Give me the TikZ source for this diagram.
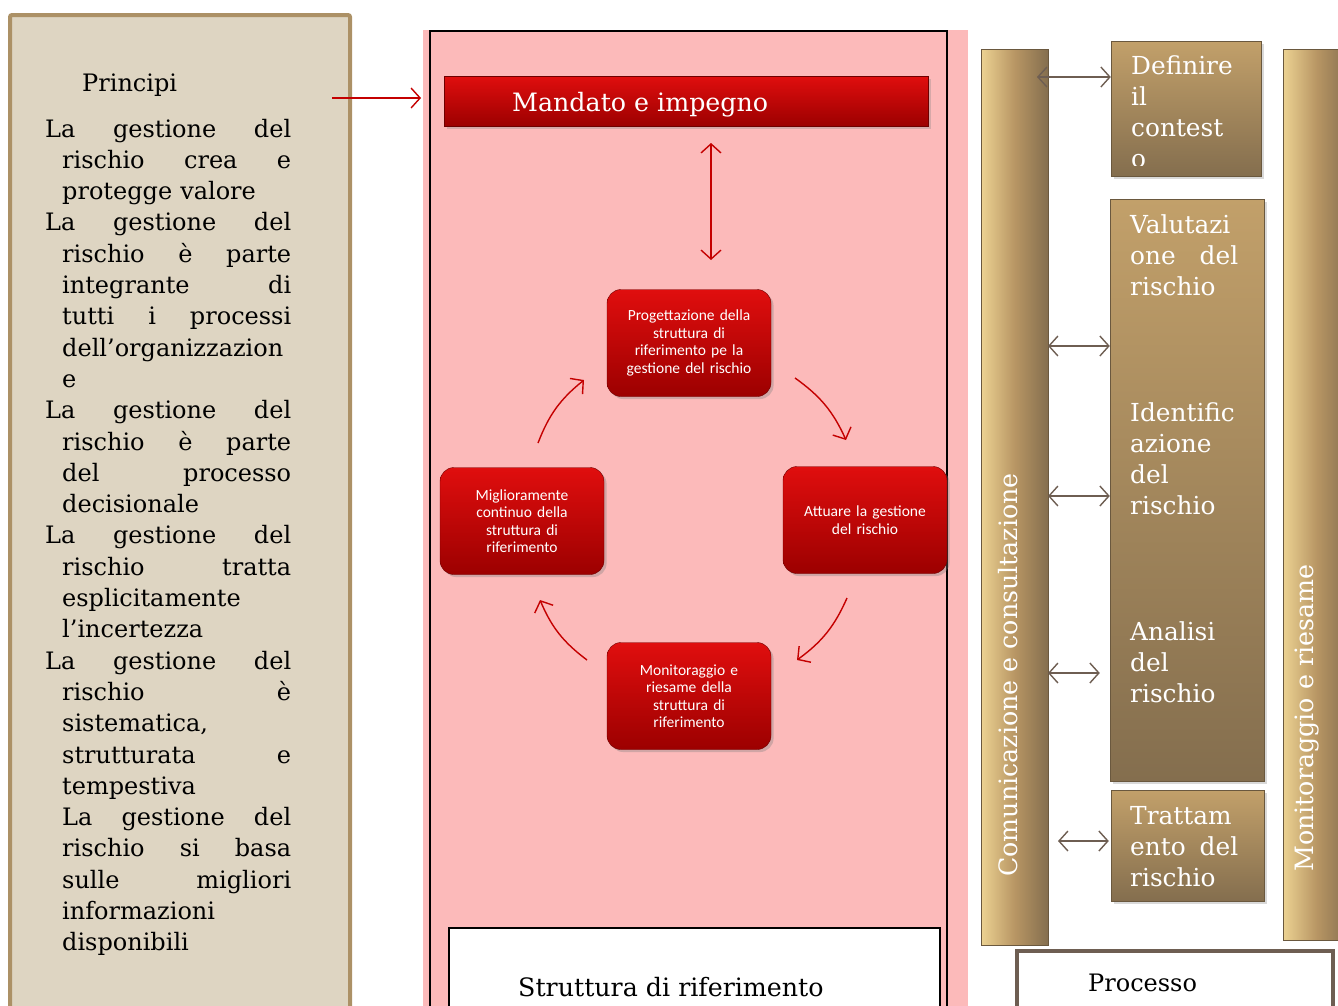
\documentclass[tikz,border=0pt]{standalone}
\usepackage{fontspec}
\setmainfont{DejaVu Serif}
\newfontfamily\boxfont{Carlito}
\usepackage{tikz}
\usetikzlibrary{arrows.meta,positioning,shadows}

\definecolor{beige}{RGB}{222,213,194}
\definecolor{beigeline}{RGB}{172,145,102}
\definecolor{pinkbg}{RGB}{252,186,186}
\definecolor{redtop}{RGB}{224,14,14}
\definecolor{redbot}{RGB}{156,0,0}
\definecolor{goldlight}{RGB}{236,210,146}
\definecolor{goldmid}{RGB}{184,150,100}
\definecolor{golddark}{RGB}{132,110,78}
\definecolor{goldtop}{RGB}{194,160,106}
\definecolor{arrowgray}{RGB}{110,94,82}
\definecolor{arrowred}{RGB}{196,0,0}

\newcommand{\fullline}[1]{\makebox[246pt][s]{\spaceskip=.33em plus 1fil\relax#1}}
\newcommand{\hangline}[1]{\hspace*{17pt}\makebox[229pt][s]{\spaceskip=.33em plus 1fil\relax#1}}
\newcommand{\hangleft}[1]{\hspace*{17pt}#1}
\newcommand{\phaseline}[1]{\makebox[108pt][s]{\spaceskip=.33em plus 1fil\relax#1}}

\begin{document}
\begin{tikzpicture}
  [
    x=1pt, y=-1pt,
    >={Straight Barb[length=9pt,width=20pt]},
    Panel/.style={draw=beigeline, line width=4pt, fill=beige, rounded corners=2pt},
    Banner/.style={rectangle, top color=redtop, bottom color=redbot, draw=redbot!70!black, minimum width=484pt, minimum height=50pt, drop shadow={opacity=0.3}},
    Step/.style={rectangle, rounded corners=14pt, top color=redtop, bottom color=redbot, draw=redbot!70!black, minimum width=164pt, minimum height=107pt, text width=156pt, align=center, text=white, font=\boxfont\fontsize{15.5}{17.5}\selectfont, drop shadow={opacity=0.35}},
    Bar/.style={rectangle, left color=goldlight, right color=golddark, middle color=goldmid, draw=golddark!80!black, minimum width=67pt, inner sep=0pt},
    Phase/.style={rectangle, top color=goldtop, bottom color=golddark, draw=golddark!80!black, inner sep=0pt, drop shadow={opacity=0.3}},
    Label/.style={inner sep=0pt, font=\fontsize{24}{31.3}\selectfont},
    BigLabel/.style={inner sep=0pt, font=\fontsize{25.3}{31.3}\selectfont},
    PhaseText/.style={inner sep=0pt, font=\fontsize{24.8}{31.3}\selectfont, text=white, text width=108pt, align=left, anchor=base west},
    RedLine/.style={draw=arrowred, line width=1.4pt},
    GrayLine/.style={draw=arrowgray, line width=1.4pt}
  ]
  \useasboundingbox (0,0) rectangle (1338,1005);
  \clip (0,0) rectangle (1338,1005);

  % Principi
  \path[Panel] (10,15) rectangle (350,1030);
  \node[Label, anchor=base west] (title) at (82,91) {Principi};
  \node[Label, anchor=base west, text width=246pt, align=left] (principles) at (45,137) {%
    \fullline{La gestione del}\\
    \hangline{rischio crea e}\\
    \hangleft{protegge valore}\\
    \fullline{La gestione del}\\
    \hangline{rischio è parte}\\
    \hangline{integrante di}\\
    \hangline{tutti i processi}\\
    \hangleft{dell’organizzazion}\\
    \hangleft{e}\\
    \fullline{La gestione del}\\
    \hangline{rischio è parte}\\
    \hangline{del processo}\\
    \hangleft{decisionale}\\
    \fullline{La gestione del}\\
    \hangline{rischio tratta}\\
    \hangleft{esplicitamente}\\
    \hangleft{l’incertezza}\\
    \fullline{La gestione del}\\
    \hangline{rischio è}\\
    \hangleft{sistematica,}\\
    \hangline{strutturata e}\\
    \hangleft{tempestiva}\\
    \hangline{La gestione del}\\
    \hangline{rischio si basa}\\
    \hangline{sulle migliori}\\
    \hangleft{informazioni}\\
    \hangleft{disponibili}};

  % Struttura di riferimento
  \fill[pinkbg] (423,30) rectangle (968,1030);
  \draw[line width=1.6pt] (430,1030) -- (430,31) -- (947,31) -- (947,1030);
  \node[Banner] (mandate) at (686,101) {};
  \node[BigLabel, text=white, anchor=base west] (mandatetext) at (512,111) {Mandato e impegno};

  \node[Step] (design) at (689,343) {Progettazione della\\struttura di\\riferimento pe la\\gestione del rischio};
  \node[Step] (implement) at (865,520) {Attuare la gestione\\del rischio\\[17.5pt]};
  \node[Step] (monitor) at (689,696) {Monitoraggio e\\riesame della\\struttura di\\riferimento};
  \node[Step] (improve) at (522,521) {Miglioramente\\continuo della\\struttura di\\riferimento};

  \draw[line width=1.6pt, fill=white] (449,928) rectangle (940,1030);
  \node[BigLabel, anchor=base west] (frametext) at (518,996) {Struttura di riferimento};

  % Processo
  \node[Bar, minimum height=896pt] (comm) at (1014.5,497) {};
  \node[BigLabel, text=white, rotate=90, anchor=west] (commtext) at (1008,877) {Comunicazione e consultazione};
  \node[Bar, minimum height=891pt] (review) at (1316.5,494.5) {};
  \node[BigLabel, text=white, rotate=90, anchor=west] (reviewtext) at (1307,872) {Monitoraggio e riesame};

  \node[Phase, minimum width=150pt, minimum height=135pt] (context) at (1186,108.5) {};
  \node[Phase, minimum width=154pt, minimum height=582pt] (assess) at (1187,490) {};
  \node[Phase, minimum width=153pt, minimum height=111pt] (treat) at (1187.5,845.5) {};

  \begin{scope}
    \clip (context.north west) rectangle ([yshift=11pt]context.south east);
    \node[PhaseText] (contexttext) at (1131,74) {Definire\\il\\contest\\o};
  \end{scope}
  \node[PhaseText] (assesstext) at (1130,233) {Valutazi\\\phaseline{one del}\\rischio};
  \node[PhaseText] (identtext) at (1130,421) {Identific\\azione\\del\\rischio};
  \node[PhaseText] (analysistext) at (1130,640) {Analisi\\del\\rischio};
  \node[PhaseText] (treattext) at (1130,824) {Trattam\\\phaseline{ento del}\\rischio};

  \draw[draw=arrowgray, line width=4pt, fill=white] (1017,951) rectangle (1333,1030);
  \node[Label, anchor=base west] (processtext) at (1088,991) {Processo};

  % Coordinates
  \coordinate (p0) at (332,98);
  \coordinate (p1) at (421,98);
  \coordinate (m0) at (711,143);
  \coordinate (m1) at (711,260);
  \coordinate (c1) at (538,443);
  \coordinate (c2) at (584,380);
  \coordinate (c3) at (795,378);
  \coordinate (c4) at (846,440);
  \coordinate (c5) at (847,598);
  \coordinate (c6) at (797,660);
  \coordinate (c7) at (587,660);
  \coordinate (c8) at (540,600);
  \coordinate (g1) at (1037,77);
  \coordinate (g2) at (1048,346);
  \coordinate (g3) at (1048,496);
  \coordinate (g4) at (1048,673);
  \coordinate (g5) at (1058,841);

  % Lines
  \path [->, RedLine] (p0) -- (p1);
  \path [<->, RedLine] (m0) -- (m1);
  \path [->, RedLine] (c1) to[bend left=15] (c2);
  \path [->, RedLine] (c3) to[bend left=15] (c4);
  \path [->, RedLine] (c5) to[bend left=15] (c6);
  \path [->, RedLine] (c7) to[bend left=15] (c8);
  \path [<->, GrayLine] (g1) -- (g1 -| context.west);
  \path [<->, GrayLine] (g2) -- (g2 -| assess.west);
  \path [<->, GrayLine] (g3) -- (g3 -| assess.west);
  \path [<->, GrayLine] (g4) -- ([xshift=-10pt]g4 -| assess.west);
  \path [<->, GrayLine] (g5) -- ([xshift=-2pt]g5 -| treat.west);

\end{tikzpicture}
\end{document}
